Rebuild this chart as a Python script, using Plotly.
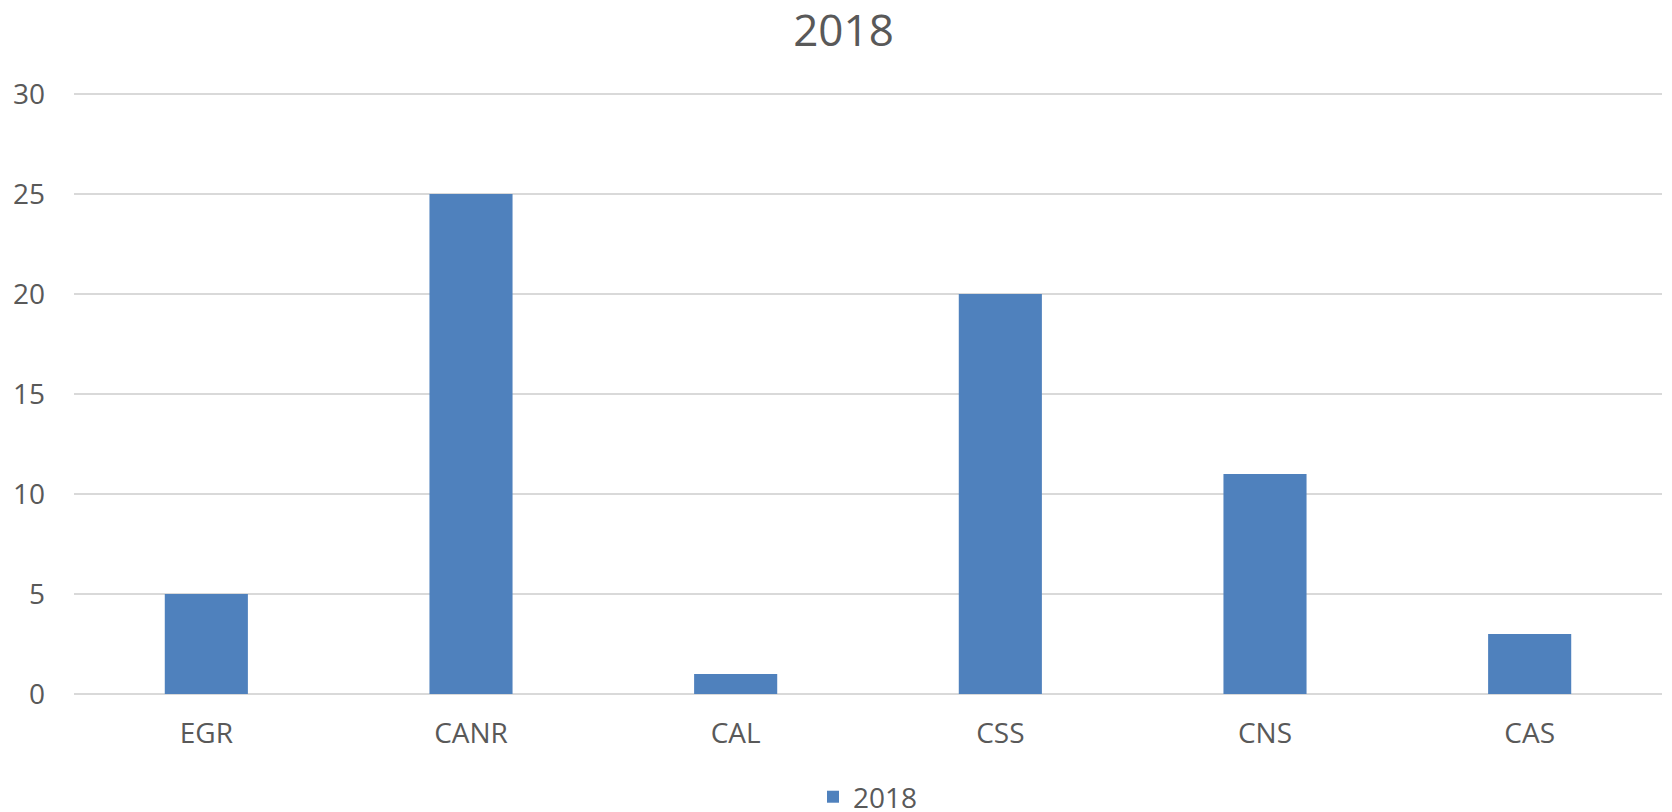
import plotly.graph_objects as go

categories = ["EGR", "CANR", "CAL", "CSS", "CNS", "CAS"]
values_2018 = [5, 25, 1, 20, 11, 3]
series_name = "2018"
y_ticks = [0, 5, 10, 15, 20, 25, 30]

text_color = "#595959"
grid_color = "#d9d9d9"
bar_color = "#4f81bd"
font_family = "Open Sans, Noto Sans, sans-serif"

fig = go.Figure()
fig.add_trace(go.Bar(
    x=categories,
    y=values_2018,
    name=series_name,
    marker=dict(color=bar_color, line=dict(width=0)),
    showlegend=True,
))

fig.update_layout(
    width=1672,
    height=812,
    # range goes a bit past 30 so the top gridline is drawn
    margin=dict(l=74, r=10, t=88, b=118, autoexpand=False),
    paper_bgcolor="white",
    plot_bgcolor="white",
    bargap=0.686,
    font=dict(family=font_family, color=text_color, size=28),
    title=dict(
        text="2018",
        x=0.5045,
        xanchor="center",
        y=0.962,
        yanchor="middle",
        font=dict(family=font_family, size=44, color=text_color),
    ),
    legend=dict(
        orientation="h",
        x=0.5,
        xanchor="center",
        y=-0.17,
        yanchor="middle",
        font=dict(family=font_family, size=28, color=text_color),
        itemwidth=30,
    ),
    xaxis=dict(
        showgrid=False,
        showline=False,
        ticks="",
        tickfont=dict(size=28, color=text_color),
        ticklabelstandoff=20,
    ),
    yaxis=dict(
        range=[0, 30.3],
        tickvals=y_ticks,
        showgrid=True,
        gridcolor=grid_color,
        gridwidth=1.5,
        zeroline=True,
        zerolinecolor=grid_color,
        zerolinewidth=1.5,
        showline=False,
        ticks="",
        tickfont=dict(size=28, color=text_color),
        ticklabelstandoff=28,
    ),
)

fig.write_html("out.html", config={"displayModeBar": False},
               post_script="document.body.style.margin='0';")
